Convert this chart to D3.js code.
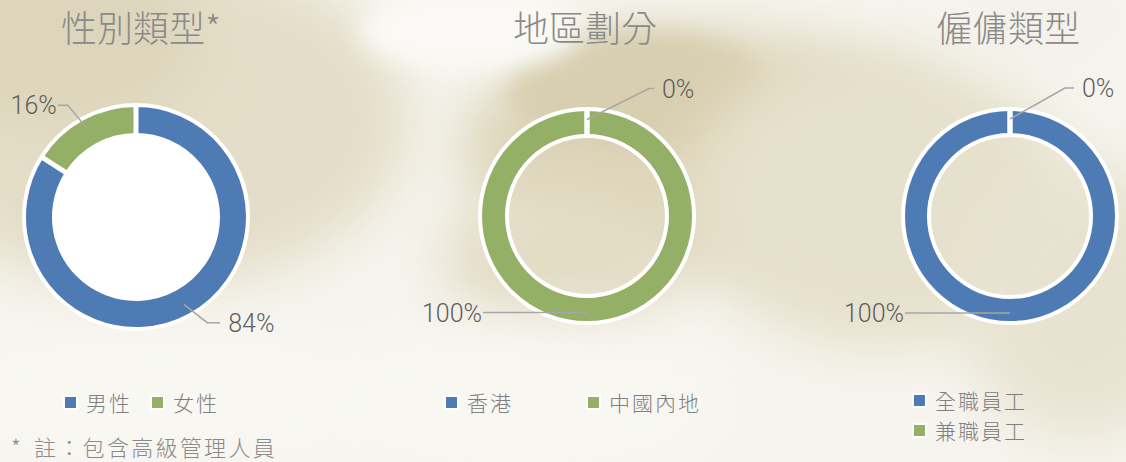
<!DOCTYPE html>
<html>
<head>
<meta charset="utf-8">
<script src="https://cdn.jsdelivr.net/npm/d3@7"></script>
<style>
  html, body { margin: 0; padding: 0; }
  body { width: 1126px; height: 462px; overflow: hidden; background: #f5f3ec; }
  svg text { font-family: "Noto Sans CJK TC", "Noto Sans", sans-serif; }
  svg text.num { font-family: Roboto, "Liberation Sans", sans-serif; }
</style>
</head>
<body>
<div id="chart"></div>
<script>
// ---- data ----
const titles = ['性別類型*', '地區劃分', '僱傭類型'];
const genderCats = ['男性', '女性'];
const genderVals = [84, 16];
const regionCats = ['香港', '中國內地'];
const regionVals = [0, 100];
const employCats = ['全職員工', '兼職員工'];
const employVals = [100, 0];
const footnote = '註：包含高級管理人員';

const colors = ['#4e7bb3', '#93b066'];

const W = 1126, H = 462;
const svg = d3.select('#chart').append('svg')
  .attr('width', W).attr('height', H);

// ---- watercolour-ish background ----
const defs = svg.append('defs');
defs.append('filter').attr('id', 'blur').attr('x', '-50%').attr('y', '-50%')
  .attr('width', '200%').attr('height', '200%')
  .append('feGaussianBlur').attr('stdDeviation', 28);
defs.append('filter').attr('id', 'blurS').attr('x', '-50%').attr('y', '-50%')
  .attr('width', '200%').attr('height', '200%')
  .append('feGaussianBlur').attr('stdDeviation', 12);

const bg = svg.append('g');
bg.append('rect').attr('width', W).attr('height', H).attr('fill', '#f6f4ee');
const blobs = [
  [150, 120, 260, 170, '#e4dec8', 'blur'],
  [60, 40, 140, 90, '#ddd6bc', 'blur'],
  [700, 150, 240, 120, '#ddd5b9', 'blur'],
  [640, 90, 130, 60, '#d8cfb1', 'blurS'],
  [880, 200, 190, 150, '#e6e1cc', 'blur'],
  [1080, 300, 120, 140, '#e8e3d1', 'blur'],
  [560, 260, 120, 70, '#e3ddc6', 'blur'],
  [470, 30, 110, 40, '#faf9f5', 'blurS'],
  [160, 400, 220, 70, '#f8f7f2', 'blur'],
  [520, 400, 200, 70, '#f8f7f2', 'blur'],
  [1040, 20, 90, 40, '#f3f1e9', 'blur']
];
bg.selectAll('ellipse').data(blobs).join('ellipse')
  .attr('cx', d => d[0]).attr('cy', d => d[1])
  .attr('rx', d => d[2]).attr('ry', d => d[3])
  .attr('fill', d => d[4]).attr('filter', d => `url(#${d[5]})`);

// ---- charts ----
const charts = [
  { title: titles[0], cats: genderCats, vals: genderVals,
    cx: 136, cy: 217, ro: 111, ri: 83, hole: true, titleX: 141,
    leaders: [{ dx: 23, dy: 18, tail: 13 }, { dx: -20, dy: -24, tail: -10 }],
    legend: { x: 65, y: 403, sx: 87, sy: 0 } },
  { title: titles[1], cats: regionCats, vals: regionVals,
    cx: 587, cy: 216, ro: 106, ri: 81, hole: false, titleX: 585,
    leaders: [{ dx: 62, dy: -31, tail: 5 }, { dx: 0, dy: 0, tail: -104 }],
    legend: { x: 446, y: 403, sx: 142, sy: 0 } },
  { title: titles[2], cats: employCats, vals: employVals,
    cx: 1010, cy: 216, ro: 106, ri: 82, hole: false, titleX: 1008,
    leaders: [{ dx: 0, dy: 0, tail: -105 }, { dx: 55, dy: -31, tail: 9 }],
    legend: { x: 914, y: 401, sx: 0, sy: 30 } }
];

const pie = d3.pie().value(d => d).sort(null);
const pct = d3.format('.0%');

charts.forEach(c => {
  const g = svg.append('g').attr('transform', `translate(${c.cx},${c.cy})`);

  // title
  svg.append('text')
    .attr('x', c.titleX).attr('y', 42)
    .attr('text-anchor', 'middle')
    .attr('font-size', '36px')
    .attr('font-weight', 300)
    .attr('fill', '#8a8a8a')
    .text(c.title);

  // white backing ring
  if (c.hole) {
    g.append('circle').attr('r', c.ro + 3).attr('fill', '#fff');
  } else {
    g.append('path')
      .attr('d', d3.arc().innerRadius(c.ri - 3).outerRadius(c.ro + 3)
        .startAngle(0).endAngle(2 * Math.PI)())
      .attr('fill', '#fff');
  }

  const arcs = pie(c.vals);
  const arc = d3.arc().innerRadius(c.ri).outerRadius(c.ro);

  g.selectAll('path.slice').data(arcs).join('path')
    .attr('class', 'slice')
    .attr('d', arc)
    .attr('fill', (d, i) => colors[i])
    .attr('stroke', '#fff')
    .attr('stroke-width', 2);

  // slice boundaries (white separators)
  g.selectAll('line.sep').data(arcs).join('line')
    .attr('class', 'sep')
    .attr('x1', d => (c.ri - 2) * Math.sin(d.startAngle))
    .attr('y1', d => -(c.ri - 2) * Math.cos(d.startAngle))
    .attr('x2', d => (c.ro + 2) * Math.sin(d.startAngle))
    .attr('y2', d => -(c.ro + 2) * Math.cos(d.startAngle))
    .attr('stroke', '#fff')
    .attr('stroke-width', 5);

  // leader lines + labels
  const rm = (c.ri + c.ro) / 2 + 3;
  arcs.forEach((d, i) => {
    const a = (d.startAngle + d.endAngle) / 2;
    const p0 = [rm * Math.sin(a), -rm * Math.cos(a)];
    const L = c.leaders[i];
    const p1 = [p0[0] + L.dx, p0[1] + L.dy];
    const p2 = [p1[0] + L.tail, p1[1]];
    g.append('path')
      .attr('d', d3.line()([p0, p1, p2]))
      .attr('fill', 'none')
      .attr('stroke', '#a6a6a6')
      .attr('stroke-width', 1.5);
    const right = L.tail > 0;
    g.append('text')
      .attr('class', 'num')
      .attr('x', p2[0] + (right ? 8 : -1))
      .attr('y', p2[1] + 9)
      .attr('text-anchor', right ? 'start' : 'end')
      .attr('font-size', '25px')
      .attr('font-weight', 300)
      .attr('fill', '#5e5e5e')
      .text(pct(d.data / d3.sum(c.vals)));
  });

  // legend
  const lg = svg.append('g');
  c.cats.forEach((name, i) => {
    const x = c.legend.x + i * c.legend.sx;
    const y = c.legend.y + i * c.legend.sy;
    lg.append('rect').attr('x', x - 2).attr('y', y - 8)
      .attr('width', 15).attr('height', 15).attr('fill', '#fff');
    lg.append('rect').attr('x', x).attr('y', y - 6)
      .attr('width', 11).attr('height', 11).attr('fill', colors[i]);
    lg.append('text')
      .attr('x', x + 21).attr('y', y + 8)
      .attr('font-size', '21px')
      .attr('letter-spacing', '2px')
      .attr('font-weight', 300)
      .attr('fill', '#808080')
      .text(name);
  });
});

// footnote
const fn = svg.append('text')
  .attr('y', 456)
  .attr('font-size', '22px')
  .attr('font-weight', 300)
  .attr('fill', '#8a8a8a');
fn.append('tspan').attr('x', 11).text('*');
fn.append('tspan').attr('x', 34).attr('letter-spacing', '2.3px').text(footnote);
</script>
</body>
</html>
